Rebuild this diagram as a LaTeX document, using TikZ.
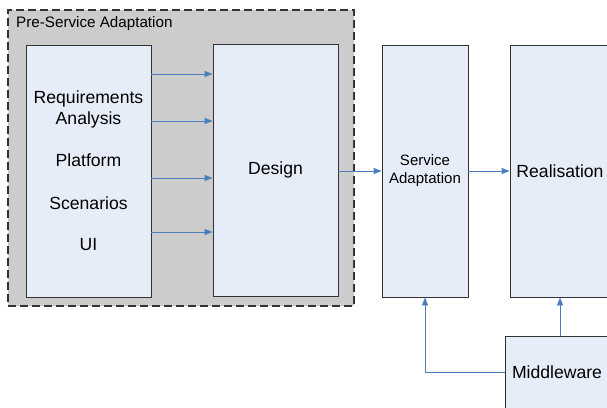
\documentclass[tikz,border=0pt]{standalone}
\usepackage{fontspec}
\setmainfont{Liberation Sans}
\usetikzlibrary{arrows.meta}

\definecolor{boxfill}{RGB}{230,237,248}
\definecolor{groupfill}{RGB}{204,204,204}
\definecolor{flowblue}{RGB}{74,126,192}
\definecolor{edge}{RGB}{50,50,50}

\tikzset{
	block/.style={draw=edge,fill=boxfill,line width=0.9pt,inner sep=0pt,align=center,font=\fontsize{17.6}{21}\selectfont},
	flow/.style={draw=flowblue,line width=0.9pt,-{Triangle[length=8pt,width=6pt]}}
}

\begin{document}
\begin{tikzpicture}[x=1pt,y=-1pt]
		\useasboundingbox (0,0) rectangle (607,407);

		\node[draw=black!80,fill=groupfill,dash pattern=on 8pt off 4pt,line width=1.3pt,minimum width=346pt,minimum height=296pt] (pre) at (181,158) {};
		\node[anchor=north west,inner sep=0pt,font=\fontsize{15.2}{18}\selectfont] (pretitle) at (16,16) {Pre-Service Adaptation};

		\node[block,minimum width=125pt,minimum height=252pt] (req) at (88.5,171) {Requirements\\Analysis\\[21pt]Platform\\[22pt]Scenarios\\[20pt]UI};
		\node[block,minimum width=125pt,minimum height=252pt] (design) at (275.5,170) {Design};
		\node[block,minimum width=86pt,minimum height=252pt,font=\fontsize{15}{18}\selectfont] (serv) at (425,171) {Service\\Adaptation};
		\node[block,minimum width=100pt,minimum height=252pt] (real) at (560,171) {Realisation};
		\node[block,minimum width=104pt,minimum height=72pt] (mw) at (557,372) {Middleware};

		\foreach \y in {74,121,178,232} {\draw[flow] (req.east |- 0,\y) -- (design.west |- 0,\y);}

		\draw[flow] (design.east |- 0,171) -- (serv.west |- 0,171);
		\draw[flow] (serv.east |- 0,171) -- (real.west |- 0,171);
		\draw[flow] (mw.west) -| (serv.south);
		\draw[flow] (mw.north -| real.south) -- (real.south);
\end{tikzpicture}
\end{document}
